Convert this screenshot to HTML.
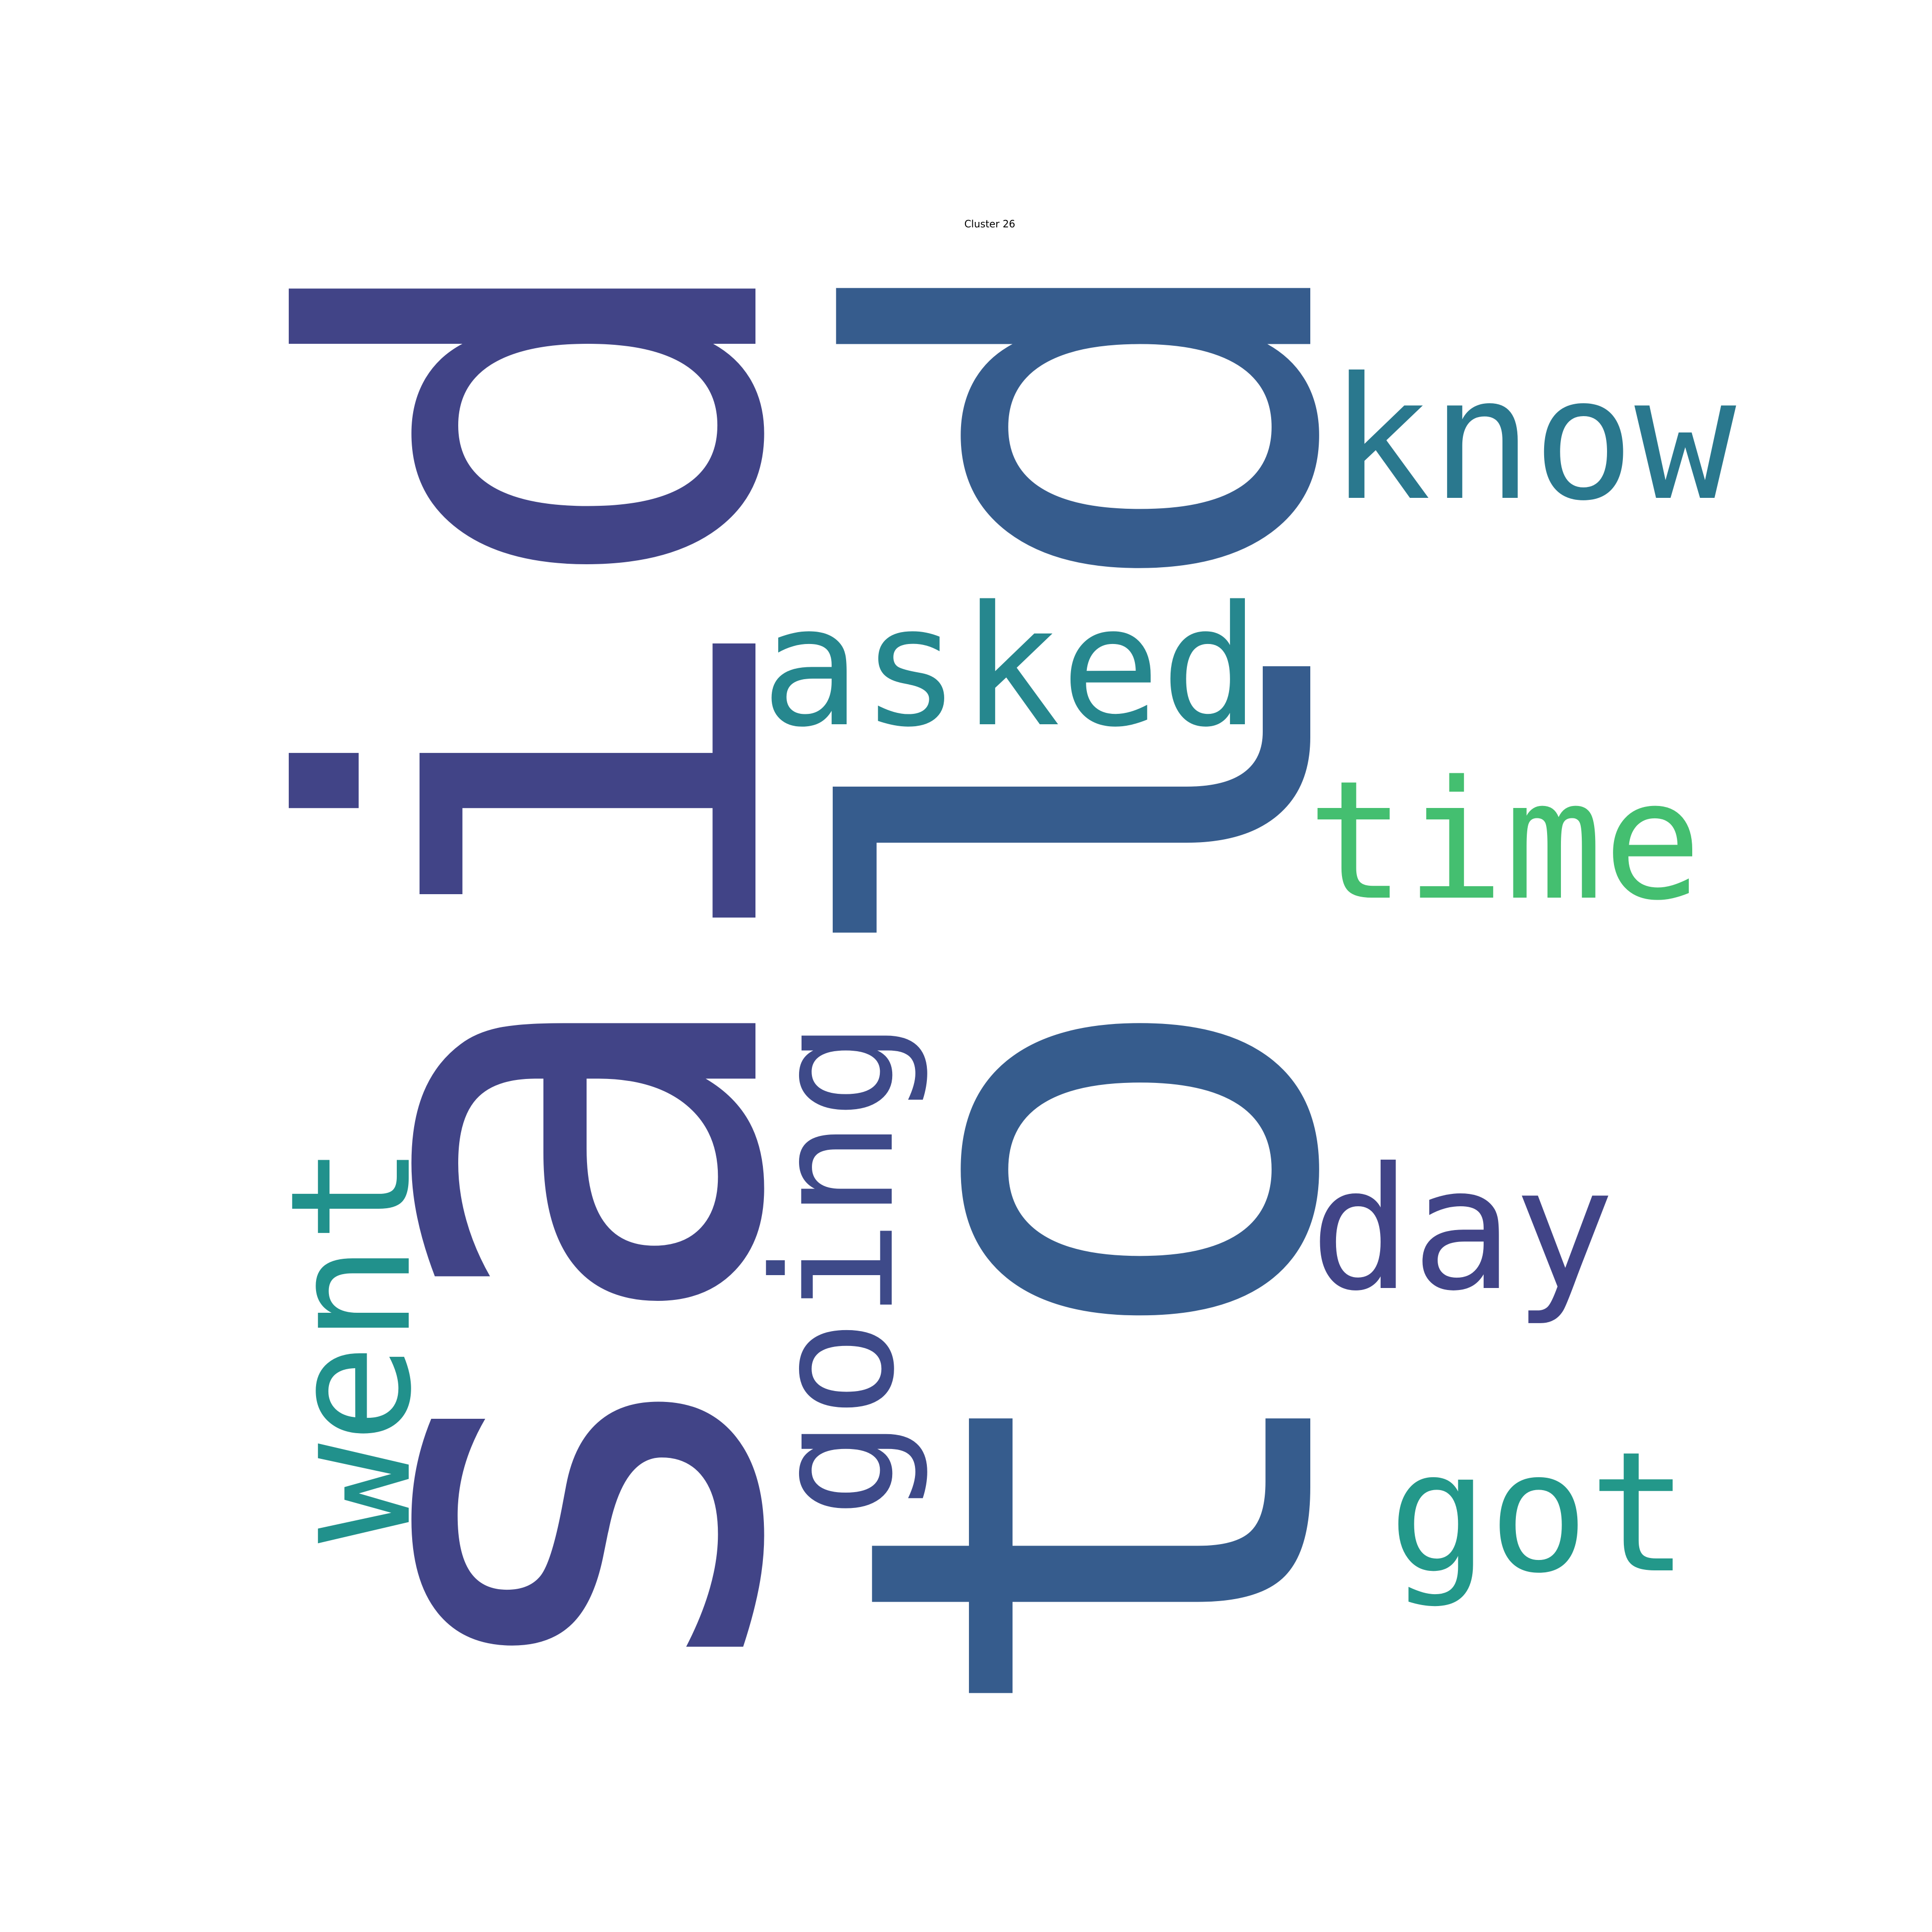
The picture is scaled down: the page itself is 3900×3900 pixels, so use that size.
<!DOCTYPE html>
<html><head><meta charset="utf-8"><style>
html,body{margin:0;padding:0;background:#fff;}
svg{display:block;}
text{font-family:"DejaVu Sans Mono",monospace;}
</style></head><body>
<svg width="3900" height="3900" viewBox="0 0 3900 3900" xmlns="http://www.w3.org/2000/svg">
<rect width="3900" height="3900" fill="#ffffff"/>
<text x="1998" y="459" style="font-family:'DejaVu Sans',sans-serif" font-size="20" text-anchor="middle" fill="#000">Cluster 26</text>
<text transform="translate(1525,1960) rotate(-90)" font-size="1240" text-anchor="middle" fill="#414487">said</text>
<text transform="translate(2645,1981) rotate(-90)" font-size="1260" text-anchor="middle" fill="#365c8d">told</text>
<text transform="translate(1800,2562) rotate(-90)" font-size="334" text-anchor="middle" fill="#3e4a89">going</text>
<text transform="translate(825,2712) rotate(-90)" font-size="335" text-anchor="middle" fill="#21918c">went</text>
<text x="3094" y="1005" font-size="341" text-anchor="middle" fill="#2a788e">know</text>
<text x="2040" y="1462" font-size="335" text-anchor="middle" fill="#26878e">asked</text>
<text x="3037" y="1812" font-size="331" text-anchor="middle" fill="#44bf70">time</text>
<text x="2952" y="2600" font-size="341" text-anchor="middle" fill="#414487">day</text>
<text x="3106" y="3170" font-size="336" text-anchor="middle" fill="#23988a">got</text>
</svg>
</body></html>
